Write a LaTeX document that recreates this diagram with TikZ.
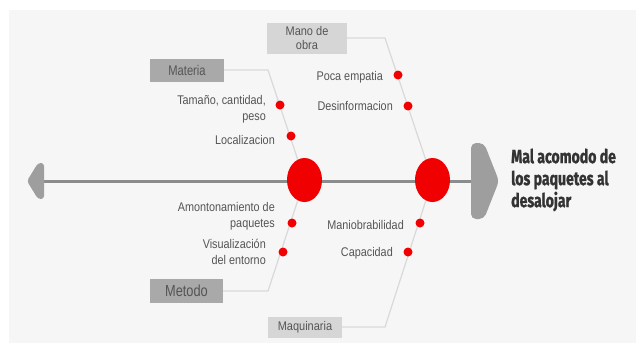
\documentclass[tikz,border=0pt]{standalone}
\usepackage{fontspec}
\setmainfont{Liberation Sans}
\newfontfamily\titlefont{Fira Sans}[FakeStretch=0.74,FakeBold=1.2]
\newfontfamily\causefont{Liberation Sans}[FakeStretch=0.86]
\newfontfamily\catfont{Liberation Sans}[FakeStretch=0.88]
\newfontfamily\catnarrow{Liberation Sans}[FakeStretch=0.8]
\definecolor{bg}{HTML}{F6F6F6}
\definecolor{bone}{HTML}{D9D9D9}
\definecolor{spine}{HTML}{8C8C8C}
\definecolor{headgray}{HTML}{9E9E9E}
\definecolor{boxdark}{HTML}{A9A9A9}
\definecolor{boxlight}{HTML}{D6D6D6}
\definecolor{txt}{HTML}{555555}
\definecolor{ttl}{HTML}{333333}
\definecolor{dotred}{HTML}{F00000}
\tikzset{
  cat/.style={inner sep=0pt, text=txt, font=\catfont\fontsize{12.5}{14}\selectfont, align=center},
  catdark/.style={cat, fill=boxdark},
  catlight/.style={cat, fill=boxlight},
  bonel/.style={draw=bone, line width=1.2pt},
  dotn/.style={circle, fill=dotred, inner sep=0pt, minimum size=9pt},
  cause/.style={anchor=east, inner sep=0pt, text=txt, font=\causefont\fontsize{12.6}{16}\selectfont, align=right},
  bigdot/.style={ellipse, fill=dotred, inner sep=0pt, minimum width=35pt, minimum height=44pt},
}
\usetikzlibrary{shapes.geometric}
\begin{document}
\begin{tikzpicture}[x=1pt,y=-1pt]
\useasboundingbox (0,0) rectangle (636,343);
\fill[bg] (9,10) rectangle (636,343);

% category boxes
\node[catlight, minimum width=80pt, minimum height=31pt] (mano) at (307,38) {Mano de\\obra};
\node[catdark, minimum width=74pt, minimum height=23pt, font=\catnarrow\fontsize{14}{16}\selectfont] (materia) at (187,70) {Materia};
\node[catdark, minimum width=73pt, minimum height=24pt, font=\catnarrow\fontsize{16}{18}\selectfont] (metodo) at (186.5,291) {Metodo};
\node[catlight, minimum width=74pt, minimum height=21pt] (maq) at (305,327) {Maquinaria};

% big circles positions
\coordinate (c1) at (304.5,180);
\coordinate (c2) at (432.5,180);

% corners
\coordinate (kmat) at (268,70);
\coordinate (kmano) at (385,38);
\coordinate (kmet) at (268,291);
\coordinate (kmaq) at (385,327);

% bones
\draw[bonel] (materia.east) -- (kmat) -- (c1);
\draw[bonel] (metodo.east) -- (kmet) -- (c1);
\draw[bonel] (mano.east) -- (kmano) -- (c2);
\draw[bonel] (maq.east) -- (kmaq) -- (c2);

% spine and heads
\coordinate (lh) at (43,181);
\coordinate (rh) at (472,181);
\draw[spine, line width=3pt] (lh) -- (rh);
\fill[headgray, rounded corners=3pt] (44,163) -- (38,163) -- (27,181) -- (38,199) -- (44,199) -- cycle;
\fill[headgray, rounded corners=5pt] (471,143) -- (484,143) -- (499,181) -- (484,219) -- (471,219) -- cycle;

\node[bigdot] (b1) at (c1) {};
\node[bigdot] (b2) at (c2) {};

% dots
\node[dotn] (d1) at (280,105) {};
\node[dotn] (d2) at (291,136) {};
\node[dotn] (d3) at (398,75) {};
\node[dotn] (d4) at (408,106) {};
\node[dotn] (d5) at (292,223) {};
\node[dotn] (d6) at (283,252) {};
\node[dotn] (d7) at (420,223) {};
\node[dotn] (d8) at (408,252) {};

% cause labels
\node[cause] (t1) at (266,109) {Tamaño, cantidad,\\peso};
\node[cause] (t2) at (275,140) {Localizacion};
\node[cause] (t3) at (383,77) {Poca empatia};
\node[cause] (t4) at (393,106) {Desinformacion};
\node[cause] (t5) at (275,216) {Amontonamiento de\\paquetes};
\node[cause] (t6) at (266,252) {Visualización\\del entorno};
\node[cause] (t7) at (404,225) {Maniobrabilidad};
\node[cause] (t8) at (393,253) {Capacidad};

% title
\node[anchor=west, inner sep=0pt, align=left, text=ttl, font=\titlefont\bfseries\fontsize{19}{22}\selectfont] (title) at (511,180) {Mal acomodo de\\los paquetes al\\desalojar};
\end{tikzpicture}
\end{document}
